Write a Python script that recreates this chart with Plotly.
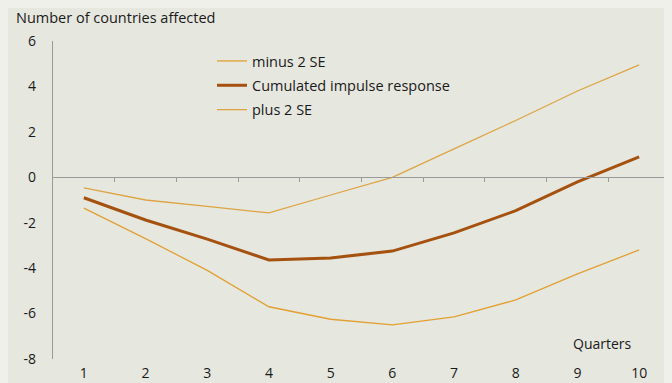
import plotly.graph_objects as go

quarters = [1, 2, 3, 4, 5, 6, 7, 8, 9, 10]
tick_labels = ["1", "2", "3", "4", "5", "6", "7", "8", "9", "10"]
minus_2se = [-1.36, -2.7, -4.1, -5.7, -6.25, -6.5, -6.15, -5.4, -4.25, -3.2]
response = [-0.9, -1.88, -2.72, -3.64, -3.55, -3.25, -2.45, -1.47, -0.2, 0.9]
plus_2se = [-0.47, -1.0, -1.28, -1.57, -0.78, 0.0, 1.25, 2.5, 3.8, 4.95]
y_ticks = [-8, -6, -4, -2, 0, 2, 4, 6]
y_tick_labels = ["-8", "-6", "-4", "-2", "0", "2", "4", "6"]

FONT = "Open Sans"
OFF = 8  # page body margin
W, H = 672 - OFF, 383 - OFF
L, R, T, B = 53 - OFF, 2, 41 - OFF, 24
pw = W - L - R
ph = H - T - B


def px(xp):
    return (xp - OFF - L) / pw


def py(yp):
    return 1 - (yp - OFF - T) / ph


fig = go.Figure()
fig.add_trace(go.Scatter(x=quarters, y=minus_2se, mode="lines", name="minus 2 SE",
                         legendgroup="a", line=dict(color="#e2a032", width=1.3)))
fig.add_trace(go.Scatter(x=quarters, y=response, mode="lines", name="Cumulated impulse response",
                         legendgroup="b", line=dict(color="#a5510f", width=3)))
fig.add_trace(go.Scatter(x=quarters, y=plus_2se, mode="lines", name="plus 2 SE",
                         legendgroup="c", line=dict(color="#dea444", width=1.3)))
# invisible trace to anchor the zero-line axis
fig.add_trace(go.Scatter(x=[quarters[0]], y=[0], xaxis="x2", mode="markers",
                         marker=dict(opacity=0), showlegend=False, hoverinfo="skip"))

fig.update_layout(
    width=W, height=H,
    margin=dict(l=L, r=R, t=T, b=B, autoexpand=False),
    paper_bgcolor="#e6e7df",
    plot_bgcolor="#e6e7df",
    font=dict(family=FONT, size=14, color="#1a1a1a"),
    showlegend=True,
    legend=dict(x=px(212), y=py(45), xanchor="left", yanchor="top",
                bgcolor="rgba(0,0,0,0)", font=dict(size=14.5), itemwidth=30,
                tracegroupgap=2.5),
    xaxis=dict(range=[0.5, 10.5], tickvals=quarters, ticktext=tick_labels,
               showgrid=False, zeroline=False, showline=False, ticks="",
               automargin=False, ticklabelstandoff=4, tickfont=dict(size=14)),
    xaxis2=dict(range=[0.5, 10.5], overlaying="x", anchor="free", position=8 / 14,
                side="bottom", showline=True, linecolor="#9a9a9a", linewidth=1.3,
                tickvals=[q + 0.5 for q in quarters], ticks="outside", ticklen=4,
                automargin=False,
                tickcolor="#9a9a9a", showticklabels=False, showgrid=False, zeroline=False),
    yaxis=dict(range=[-8, 6], tickvals=y_ticks, ticktext=y_tick_labels,
               showgrid=False, zeroline=False, automargin=False,
               showline=True, linecolor="#9a9a9a", linewidth=1.3, ticks="",
               ticklabelstandoff=13, tickfont=dict(size=14)),
    annotations=[
        dict(text="Number of countries affected", xref="paper", yref="paper",
             x=px(14), y=py(17), xanchor="left", yanchor="middle",
             showarrow=False, font=dict(size=14.5)),
        dict(text="Quarters", xref="paper", yref="paper",
             x=px(571), y=py(343), xanchor="left", yanchor="middle",
             showarrow=False, font=dict(size=14)),
    ],
)

fig.write_html("out.html",
               post_script="document.body.style.background='#eef0e9';")
